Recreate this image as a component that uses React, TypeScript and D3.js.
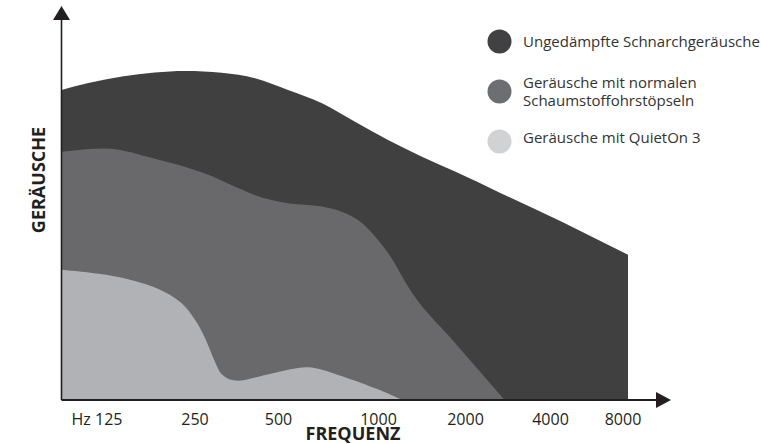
import React from "react";
import * as d3 from "d3";

// x values are octave positions on the frequency axis (0 = 125 Hz, 1 = 250 Hz, ... 6 = 8000 Hz)
const freqLabels = ["Hz 125", "250", "500", "1000", "2000", "4000", "8000"];
const freqOctaves = [0, 1, 2, 3, 4, 5, 6];

const seriesNames = [
  "Ungedämpfte Schnarchgeräusche",
  "Geräusche mit normalen\nSchaumstoffohrstöpseln",
  "Geräusche mit QuietOn 3",
];

const unattenuatedX = [-0.37, -0.09, 0.255, 0.59, 0.9, 1.32, 1.72, 2.095, 2.435, 2.765, 3.11, 3.5, 3.88, 4.41, 5.17, 6.07];
const unattenuatedY = [81.6, 83.4, 85.1, 86.2, 86.6, 86.1, 84.7, 81.6, 78.1, 73.2, 68.4, 64.0, 60.1, 54.5, 46.8, 38.2];

const foamX = [-0.37, 0.08, 0.59, 1.12, 1.515, 1.72, 2.095, 2.435, 2.665, 2.835, 2.995, 3.11, 3.385, 3.88, 4.46];
const foamY = [65.3, 66.2, 63.5, 59.6, 55.8, 53.9, 51.8, 50.9, 49.2, 46.6, 42.1, 38.7, 28.2, 15.0, 0];

const quietOnX = [-0.37, 0.08, 0.44, 0.69, 0.87, 1.0, 1.12, 1.23, 1.32, 1.48, 1.92, 2.295, 2.595, 3.015, 3.27];
const quietOnY = [34.3, 33.0, 30.9, 28.4, 25.3, 21.1, 16.3, 10.5, 6.8, 5.1, 7.0, 8.6, 6.6, 2.6, 0];

const areaColors = ["#404040", "#69696b", "#b1b2b5"];
const legendColors = ["#414042", "#6d6e71", "#d1d2d4"];

const W = 761;
const H = 444;

export default function App() {
  // piecewise scale following the printed axis
  const x = d3
    .scaleLinear()
    .domain([-0.37, 0, 1, 2, 3, 4, 5, 6, 6.07])
    .range([61.5, 97, 195, 278.5, 378.5, 465.5, 550.5, 623, 628]);
  const y = d3.scaleLinear().domain([0, 100]).range([400, 20]);

  type P = { x: number; y: number };
  const zip = (xs: number[], ys: number[]): P[] => xs.map((v, i) => ({ x: v, y: ys[i] }));
  const seriesData = [
    zip(unattenuatedX, unattenuatedY),
    zip(foamX, foamY),
    zip(quietOnX, quietOnY),
  ];
  const curves = [d3.curveMonotoneX, d3.curveMonotoneX, d3.curveCatmullRom.alpha(0.5)];

  const makeArea = (i: number) =>
    d3
      .area<P>()
      .x((d) => x(d.x))
      .y0(y(0))
      .y1((d) => y(d.y))
      .curve(curves[i] as any);

  const axisColor = "#231f20";
  const textColor = "#231f20";
  const font = "'Open Sans', 'Noto Sans', sans-serif";

  const legendY = [41.5, 91.5, 141.5];

  return (
    <svg
      width={W}
      height={H}
      style={{ position: "absolute", left: 0, top: 0, background: "#fff" }}
      fontFamily={font}
    >
      {seriesData.map((d, i) => (
        <path key={i} d={makeArea(i)(d) || ""} fill={areaColors[i]} />
      ))}

      {/* axes */}
      <line x1={61.5} x2={61.5} y1={18} y2={400} stroke={axisColor} strokeWidth={1.6} />
      <path d={`M61.5,6 L70,20 L53,20 Z`} fill={axisColor} />
      <line x1={61.5} x2={658} y1={400} y2={400} stroke={axisColor} strokeWidth={1.8} />
      <path d={`M671,400 L656,392 L656,408 Z`} fill={axisColor} />

      {/* tick labels */}
      {freqLabels.map((t, i) => (
        <text
          key={t}
          x={x(freqOctaves[i])}
          y={425}
          textAnchor="middle"
          fontSize={16}
          fill={textColor}
        >
          {t}
        </text>
      ))}

      <text x={353} y={439.5} textAnchor="middle" fontSize={18} fontWeight="bold" fill={textColor}>
        FREQUENZ
      </text>
      <text
        transform={`translate(45,180) rotate(-90)`}
        textAnchor="middle"
        fontSize={18}
        fontWeight="bold"
        fill={textColor}
      >
        GERÄUSCHE
      </text>

      {/* legend */}
      {seriesNames.map((name, i) => {
        const lines = name.split("\n");
        const cy = legendY[i];
        const startY = lines.length === 1 ? (i === 2 ? cy + 1 : cy + 5.5) : cy - 3.5;
        return (
          <g key={i}>
            <circle cx={499.5} cy={cy} r={12} fill={legendColors[i]} />
            {lines.map((l, j) => (
              <text key={j} x={523} y={startY + j * 18} fontSize={15} fill="#333">
                {l}
              </text>
            ))}
          </g>
        );
      })}
    </svg>
  );
}
